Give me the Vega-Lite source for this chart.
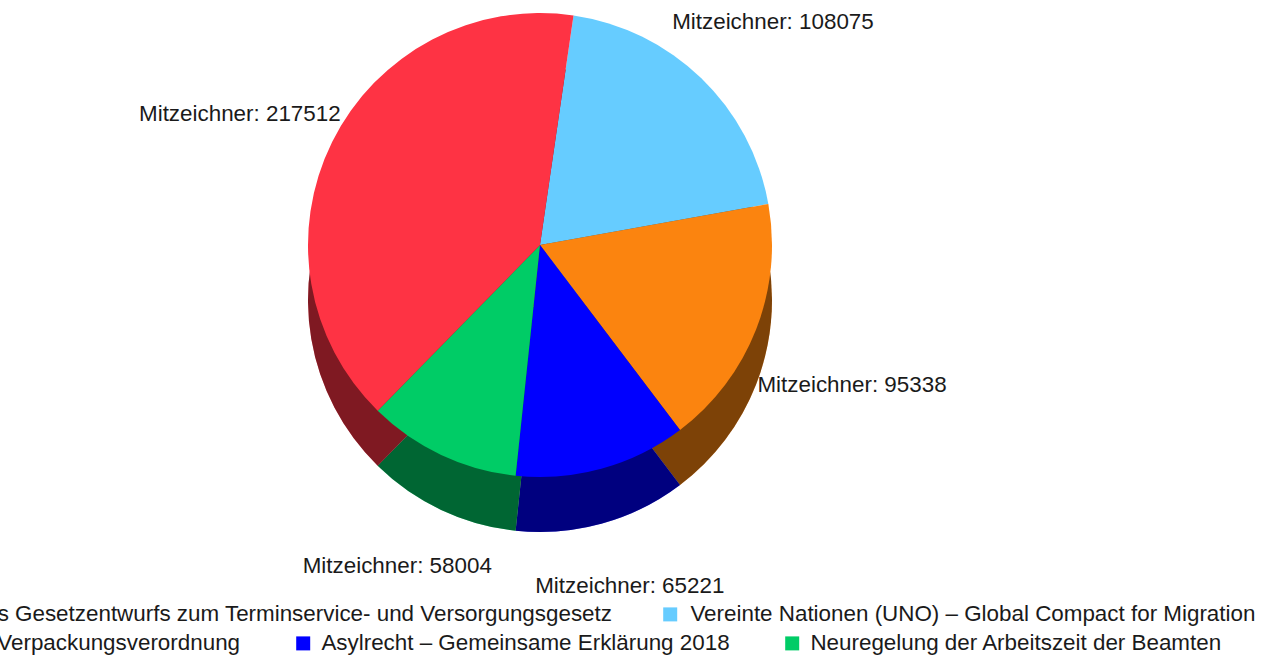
{
  "$schema": "https://vega.github.io/schema/vega-lite/v6.json",
  "autosize": {"type": "none"},
  "width": 1080,
  "height": 490,
  "padding": {"left": 0, "top": 0, "right": 192, "bottom": 165},
  "background": "white",
  "config": {"view": {"stroke": null}},
  "data": {
    "values": [
      {"name": "Vereinte Nationen (UNO) – Global Compact for Migration", "value": 108075, "rank": 1},
      {"name": "Änderung der Verpackungsverordnung", "value": 95338, "rank": 2},
      {"name": "Asylrecht – Gemeinsame Erklärung 2018", "value": 65221, "rank": 3},
      {"name": "Neuregelung der Arbeitszeit der Beamten", "value": 58004, "rank": 4},
      {"name": "Änderung des Gesetzentwurfs zum Terminservice- und Versorgungsgesetz", "value": 217512, "rank": 5}
    ]
  },
  "layer": [
    {
      "mark": {"type": "arc", "radius": 232, "yOffset": 55, "stroke": null},
      "encoding": {
        "theta": {"field": "value", "type": "quantitative", "stack": true, "scale": {"range": [0.145, 6.4282]}},
        "order": {"field": "rank", "type": "quantitative"},
        "color": {
          "field": "name", "type": "nominal", "legend": null,
          "scale": {
            "domain": ["Änderung des Gesetzentwurfs zum Terminservice- und Versorgungsgesetz", "Vereinte Nationen (UNO) – Global Compact for Migration", "Änderung der Verpackungsverordnung", "Asylrecht – Gemeinsame Erklärung 2018", "Neuregelung der Arbeitszeit der Beamten"],
            "range": ["#FE3344", "#66CCFF", "#FB840F", "#0000FF", "#00CC66"]
          }
        }
      }
    },
    {
      "mark": {"type": "arc", "radius": 232, "yOffset": 55, "stroke": null, "color": "black", "opacity": 0.5},
      "encoding": {
        "theta": {"field": "value", "type": "quantitative", "stack": true},
        "order": {"field": "rank", "type": "quantitative"}
      }
    },
    {
      "mark": {"type": "arc", "radius": 232, "stroke": null},
      "encoding": {
        "theta": {"field": "value", "type": "quantitative", "stack": true},
        "order": {"field": "rank", "type": "quantitative"},
        "color": {
          "field": "name", "type": "nominal", "legend": null,
          "scale": {
            "domain": ["Änderung des Gesetzentwurfs zum Terminservice- und Versorgungsgesetz", "Vereinte Nationen (UNO) – Global Compact for Migration", "Änderung der Verpackungsverordnung", "Asylrecht – Gemeinsame Erklärung 2018", "Neuregelung der Arbeitszeit der Beamten"],
            "range": ["#FE3344", "#66CCFF", "#FB840F", "#0000FF", "#00CC66"]
          }
        }
      }
    },
    {
      "transform": [{"calculate": "'Mitzeichner: ' + datum.value", "as": "label"}],
      "mark": {"type": "text", "radius": 335, "dy": 18, "fontSize": 22.4, "font": "Liberation Sans", "color": "#1a1a1a"},
      "encoding": {
        "theta": {"field": "value", "type": "quantitative", "stack": true},
        "order": {"field": "rank", "type": "quantitative"},
        "text": {"field": "label", "type": "nominal"}
      }
    },
    {
      "transform": [{"filter": {"field": "rank", "oneOf": [5, 1]}}],
      "mark": {"type": "arc", "opacity": 0},
      "encoding": {
        "theta": {"field": "value", "type": "quantitative", "stack": true},
        "color": {
          "field": "name", "type": "nominal",
          "scale": {
            "domain": ["Änderung des Gesetzentwurfs zum Terminservice- und Versorgungsgesetz", "Vereinte Nationen (UNO) – Global Compact for Migration"],
            "range": ["#FE3344", "#66CCFF"]
          },
          "legend": {
            "orient": "none", "legendX": -162, "legendY": 603, "direction": "horizontal", "columns": 2,
            "title": null, "padding": 0, "symbolType": "square", "symbolSize": 196, "symbolOpacity": 1,
            "symbolStrokeWidth": 0, "labelFontSize": 22.4, "labelFont": "Liberation Sans", "labelColor": "#1a1a1a",
            "labelLimit": 0, "columnPadding": 46, "labelOffset": 9
          }
        }
      }
    },
    {
      "transform": [{"filter": {"field": "rank", "oneOf": [2, 3, 4]}}],
      "mark": {"type": "arc", "opacity": 0},
      "encoding": {
        "theta": {"field": "value", "type": "quantitative", "stack": true},
        "color": {
          "field": "name", "type": "nominal",
          "scale": {
            "domain": ["Änderung der Verpackungsverordnung", "Asylrecht – Gemeinsame Erklärung 2018", "Neuregelung der Arbeitszeit der Beamten"],
            "range": ["#FB840F", "#0000FF", "#00CC66"]
          },
          "legend": {
            "orient": "none", "legendX": -174, "legendY": 632, "direction": "horizontal", "columns": 3,
            "title": null, "padding": 0, "symbolType": "square", "symbolSize": 196, "symbolOpacity": 1,
            "symbolStrokeWidth": 0, "labelFontSize": 22.4, "labelFont": "Liberation Sans", "labelColor": "#1a1a1a",
            "labelLimit": 0, "columnPadding": 51, "labelOffset": 7
          }
        }
      }
    }
  ],
  "resolve": {"scale": {"color": "independent"}, "legend": {"color": "independent"}}
}
